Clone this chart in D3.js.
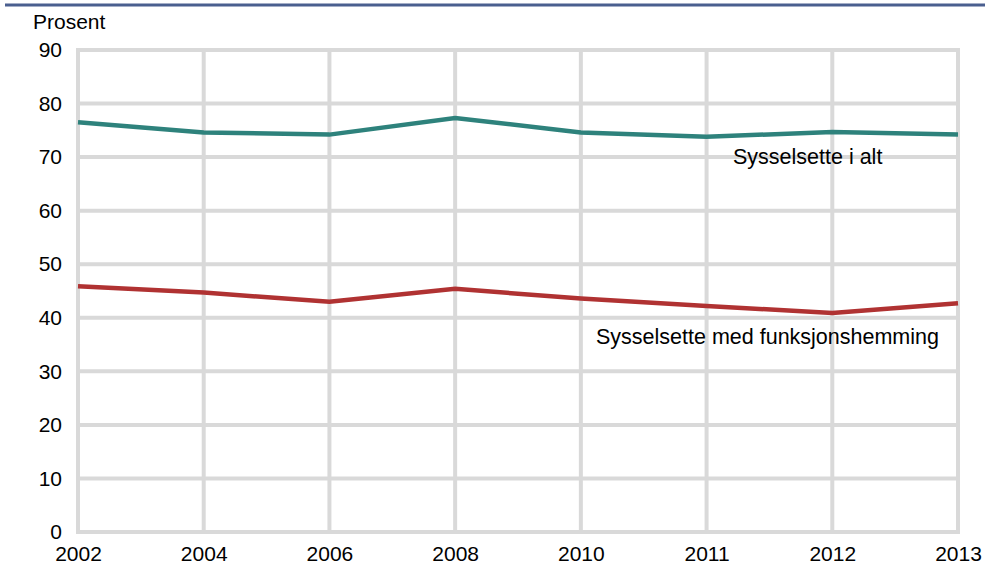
<!DOCTYPE html>
<html>
<head>
<meta charset="utf-8">
<script src="https://cdn.jsdelivr.net/npm/d3@7"></script>
<style>
  body { margin: 0; background: #fff; }
  svg text { font-family: "Liberation Sans", Arial, sans-serif; fill: #000; }
</style>
</head>
<body>
<svg id="chart" width="988" height="570"></svg>
<script>
var years = ['2002', '2004', '2006', '2008', '2010', '2011', '2012', '2013'];
var totalEmployed = [76.5, 74.6, 74.2, 77.3, 74.6, 73.8, 74.7, 74.2];
var disabledEmployed = [45.9, 44.7, 43.0, 45.4, 43.6, 42.2, 40.9, 42.7];
var yTicks = [0, 10, 20, 30, 40, 50, 60, 70, 80, 90];

var svg = d3.select('#chart');
var plotLeft = 78, plotRight = 958, plotTop = 50, plotBottom = 532;
var fontSize = 21;

var x = d3.scalePoint().domain(years).range([plotLeft, plotRight]);
var y = d3.scaleLinear().domain([0, 90]).range([plotBottom, plotTop]);

// blue rule across the top
svg.append('line')
  .attr('x1', 5).attr('x2', 985).attr('y1', 5).attr('y2', 5)
  .attr('stroke', '#4a5f8f').attr('stroke-width', 3);

var grid = svg.append('g').attr('stroke', '#d9d9d9').attr('stroke-width', 4);
grid.selectAll('line.h').data(yTicks).enter().append('line')
  .attr('class', 'h')
  .attr('x1', plotLeft - 2).attr('x2', plotRight + 2)
  .attr('y1', function(d) { return y(d); })
  .attr('y2', function(d) { return y(d); });
grid.selectAll('line.v').data(years).enter().append('line')
  .attr('class', 'v')
  .attr('x1', function(d) { return x(d); })
  .attr('x2', function(d) { return x(d); })
  .attr('y1', plotTop).attr('y2', plotBottom);

// axes, drawn by d3 but with the domain and ticks hidden
var yAxis = svg.append('g')
  .attr('transform', 'translate(' + plotLeft + ',0)')
  .call(d3.axisLeft(y).tickValues(yTicks).tickSize(0).tickPadding(16));
var xAxis = svg.append('g')
  .attr('transform', 'translate(0,' + plotBottom + ')')
  .call(d3.axisBottom(x).tickSize(0).tickPadding(14));
[yAxis, xAxis].forEach(function(a) {
  a.select('.domain').remove();
  a.selectAll('text').attr('font-size', fontSize)
    .attr('font-family', '"Liberation Sans", Arial, sans-serif').attr('fill', '#000');
});

svg.append('text').attr('x', 33).attr('y', 29).attr('font-size', fontSize).text('Prosent');

var line = d3.line()
  .x(function(d, i) { return x(years[i]); })
  .y(function(d) { return y(d); });

svg.append('path').datum(totalEmployed)
  .attr('d', line).attr('fill', 'none')
  .attr('stroke', '#2e827c').attr('stroke-width', 4.5);
svg.append('path').datum(disabledEmployed)
  .attr('d', line).attr('fill', 'none')
  .attr('stroke', '#b03232').attr('stroke-width', 4.5);

svg.append('text').attr('x', 733).attr('y', 164).attr('font-size', 21.5).text('Sysselsette i alt');
svg.append('text').attr('x', 596).attr('y', 344).attr('font-size', 21.5).text('Sysselsette med funksjonshemming');
</script>
</body>
</html>
